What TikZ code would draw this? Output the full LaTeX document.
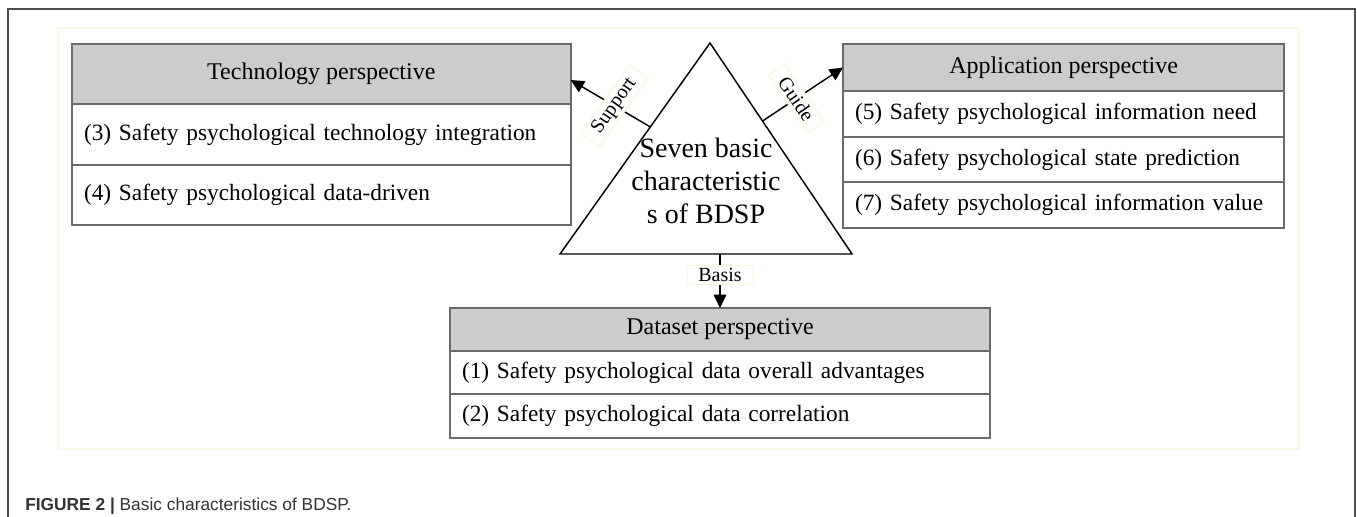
\documentclass[tikz,border=0pt]{standalone}
\usepackage{fontspec}
\setmainfont{Liberation Serif}
\newfontfamily\capfont{Liberation Sans}
\usepackage{tikz}
\usetikzlibrary{positioning,calc,arrows.meta}
\definecolor{frameline}{HTML}{4D4D4D}
\definecolor{boxline}{HTML}{6B6B6B}
\definecolor{headfill}{HTML}{CCCCCC}
\definecolor{faint}{HTML}{F8F8E4}
\definecolor{captext}{HTML}{333333}
\tikzset{
  frame/.style={draw=frameline, line width=1pt},
  halo/.style={draw=faint, line width=0.8pt},
  head/.style={draw=boxline, fill=headfill, line width=1.3pt, outer sep=0pt, inner sep=0pt, font=\fontsize{18}{20}\selectfont},
  item/.style={draw=boxline, fill=white, line width=1.3pt, outer sep=0pt, inner xsep=9pt, inner ysep=0pt, align=left, font=\fontsize{17.5}{20}\selectfont},
  tri/.style={draw=black, line width=1.1pt, line join=miter},
  core/.style={align=center, font=\fontsize{21}{24.5}\selectfont},
  arr/.style={draw=black, line width=1.1pt, -{Triangle[length=10pt,width=9.5pt]}},
  lab/.style={fill=white, draw=faint, inner xsep=8pt, inner ysep=2pt, font=\fontsize{15}{17}\selectfont},
}
\begin{document}
\begin{tikzpicture}[x=0.75pt,y=-0.75pt]
  \useasboundingbox (0,0) rectangle (1357,517);
  % frame and the faint panel
  \draw[frame] (8,517) -- (8,9) -- (1355,9) -- (1355,517);
  \draw[halo] (58,28) rectangle (1299,449);

  % technology perspective
  \node[head, anchor=north west, minimum width=374pt, minimum height=45pt] (techhead) at (72,44) {Technology perspective};
  \node[item, below=0pt of techhead, text width=356pt, minimum height=45.5pt] (tech3) {(3) Safety psychological technology integration};
  \node[item, below=0pt of tech3, text width=356pt, minimum height=45pt] (tech4) {(4) Safety psychological data-driven};

  % application perspective
  \node[head, anchor=north west, minimum width=331pt, minimum height=35.25pt] (apphead) at (843,44) {Application perspective};
  \node[item, below=0pt of apphead, text width=313pt, minimum height=34.25pt] (app5) {(5) Safety psychological information need};
  \node[item, below=0pt of app5, text width=313pt, minimum height=34.25pt] (app6) {(6) Safety psychological state prediction};
  \node[item, below=0pt of app6, text width=313pt, minimum height=34.25pt] (app7) {(7) Safety psychological information value};

  % dataset perspective
  \node[head, anchor=north west, minimum width=405pt, minimum height=32.25pt] (datahead) at (450,308) {Dataset perspective};
  \node[item, below=0pt of datahead, text width=387pt, minimum height=32.25pt] (data1) {(1) Safety psychological data overall advantages};
  \node[item, below=0pt of data1, text width=387pt, minimum height=33pt] (data2) {(2) Safety psychological data correlation};

  % the triangle
  \coordinate (A) at (710,43);
  \coordinate (L) at (560,254);
  \coordinate (R) at (852,254);
  \draw[tri] (A) -- (L) -- (R) -- cycle;
  \node[core] (bdsp) at (706,181) {Seven basic\\characteristic\\s of BDSP};

  \coordinate (supfoot) at ($(A)!0.398!(L)$);
  \coordinate (guifoot) at ($(A)!0.37!(R)$);
  \coordinate (basfoot) at (datahead.north |- L);

  \draw[arr] (supfoot) -- node[lab, rotate=55, pos=0.45] (suplab) {Support} ($(techhead.north east)!0.6!(techhead.south east)$);
  \draw[arr] (guifoot) -- node[lab, rotate=-56, pos=0.42] (guilab) {Guide} (apphead.west);
  \draw[arr] (basfoot) -- node[lab, pos=0.39] (baslab) {Basis} (datahead.north);

  \node[anchor=base west, inner sep=0pt, text=captext, font=\capfont\fontsize{13}{15}\selectfont] (caption) at (25,510) {\textbf{FIGURE 2 |} Basic characteristics of BDSP.};
\end{tikzpicture}
\end{document}
